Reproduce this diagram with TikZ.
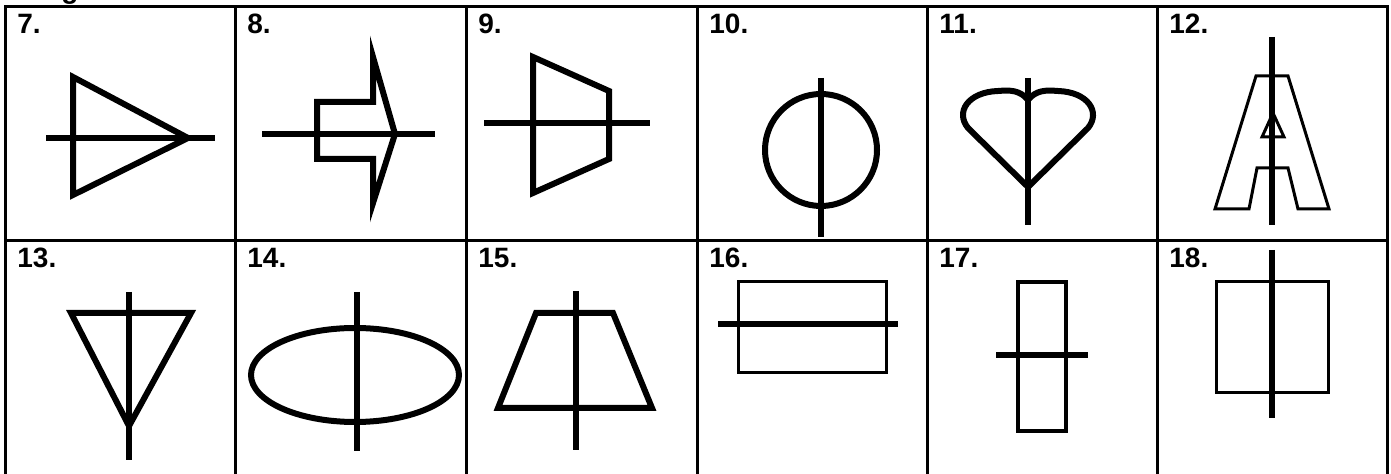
\documentclass[tikz,border=0pt]{standalone}
\usepackage{fontspec}
\setmainfont{Liberation Sans}
\usepackage{tikz}
\usetikzlibrary{positioning}

\begin{document}
\begin{tikzpicture}[x=0.5pt,y=-0.5pt,font=\fontsize{14}{16}\selectfont\bfseries,
  grid/.style={draw=black,line width=1.5pt},
  sym/.style={draw=black,line width=3pt},
  thin/.style={draw=black,line width=1.5pt},
  mid/.style={draw=black,line width=2pt},
  lbl/.style={anchor=base west,inner sep=0pt}]
  \useasboundingbox (0,0) rectangle (1391,474);
  % cut-off heading above the table
  \node[lbl] (head) at (61,-1) {g};
  % table
  \draw[grid] (5,474) -- (5,7) -- (1387,7) -- (1387,474);
  \draw[grid] (5,241) -- (1387,241);
  \foreach \x in {235,466,697,927,1157}
    \draw[grid] (\x,7) -- (\x,474);
  \foreach \x/\n in {5/7,235/8,466/9,697/10,927/11,1157/12}
    \node[lbl] (l\n) at (\x+12,34) {\n.};
  \foreach \x/\n in {5/13,235/14,466/15,697/16,927/17,1157/18}
    \node[lbl] (l\n) at (\x+12,268) {\n.};
  % 7
  \draw[sym] (73,77) -- (188,138) -- (73,195) -- cycle;
  \draw[sym] (46,138) -- (215,138);
  % 8
  \draw[sym] (317,102) -- (373,102) -- (373,57) -- (395,134) -- (373,203)
     -- (373,159) -- (317,159) -- cycle;
  \draw[sym] (262,134) -- (435,134);
  % 9
  \draw[sym] (533,57) -- (609,91) -- (609,159) -- (533,193) -- cycle;
  \draw[sym] (484,123) -- (650,123);
  % 10
  \draw[sym] (821,150) circle[radius=56];
  \draw[sym] (821,78) -- (821,237);
  % 11
  \draw[sym,line join=round] (1028,100) .. controls (1020,90) and (1010,90) .. (998,91)
     .. controls (968,92) and (955,112) .. (968,128) -- (1028,187) -- (1088,128)
     .. controls (1101,112) and (1088,92) .. (1058,91)
     .. controls (1046,90) and (1036,90) .. (1028,100);
  \draw[sym] (1028,78) -- (1028,225);
  % 12
  \draw[thin] (1256,76) -- (1288,76) -- (1329,209) -- (1298,209) -- (1288,168)
     -- (1257,168) -- (1249,209) -- (1215,209) -- cycle;
  \draw[thin] (1273,113) -- (1284,137) -- (1262,137) -- cycle;
  \draw[sym] (1272,37) -- (1272,225);
  % 13
  \draw[sym] (71,313) -- (191,313) -- (129,426) -- cycle;
  \draw[sym] (129,292) -- (129,460);
  % 14
  \draw[sym] (355,375) ellipse[x radius=104,y radius=47];
  \draw[sym] (357,292) -- (357,451);
  % 15
  \draw[sym] (536,313) -- (613,313) -- (652,408) -- (498,408) -- cycle;
  \draw[sym] (576,291) -- (576,450);
  % 16
  \draw[thin] (738,282) rectangle (886,373);
  \draw[sym] (718,324) -- (898,324);
  % 17
  \draw[mid] (1018,282) rectangle (1066,431);
  \draw[sym] (996,355) -- (1088,355);
  % 18
  \draw[thin] (1216,282) rectangle (1328,393);
  \draw[sym] (1272,250) -- (1272,418);
\end{tikzpicture}
\end{document}
